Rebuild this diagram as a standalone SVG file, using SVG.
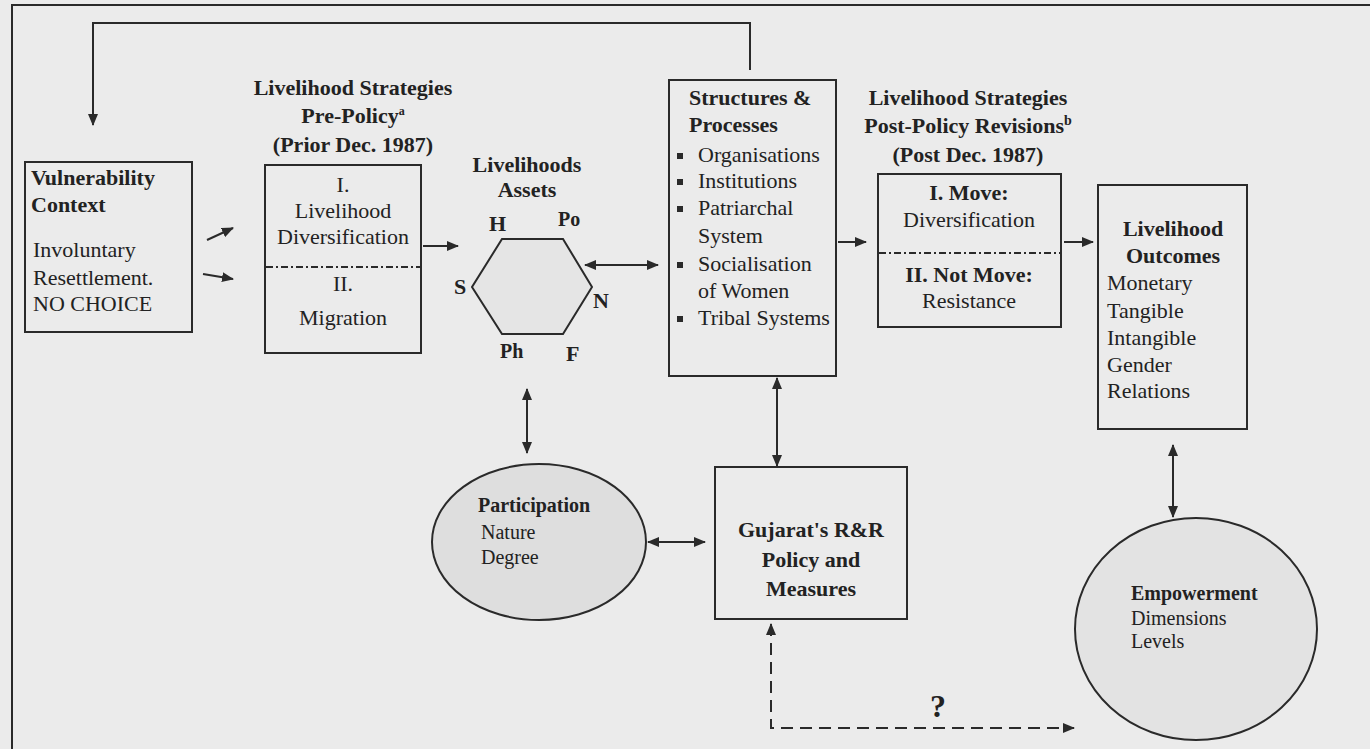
<svg xmlns="http://www.w3.org/2000/svg" width="1370" height="749" viewBox="0 0 1370 749">
  <style>
    text { font-family: "Liberation Serif", "Times New Roman", serif; fill: #222; font-size: 22px; }
    .b { font-weight: bold; }
    .s { font-size: 20px; }
    .c { text-anchor: middle; }
    .q { font-size: 32px; }
    .box { fill: none; stroke: #2a2a2a; stroke-width: 2; }
    .shape { fill: #e2e2e2; stroke: #2a2a2a; stroke-width: 2; }
    .sep { stroke: #2a2a2a; stroke-width: 2; stroke-dasharray: 7 3 2 3; }
    .link { fill: none; stroke: #2a2a2a; stroke-width: 2; }
    .dash { stroke-dasharray: 12 7; }
  </style>
  <defs>
    <marker id="arrow" viewBox="0 0 12 10" refX="11" refY="5" markerWidth="12" markerHeight="10" markerUnits="userSpaceOnUse" orient="auto-start-reverse">
      <path d="M0,0 L12,5 L0,10 Z" fill="#2a2a2a"/>
    </marker>
  </defs>

  <!-- page -->
  <rect x="0" y="0" width="1370" height="749" fill="#ebebeb"/>
  <path d="M12,749 V5 H1370" fill="none" stroke="#2a2a2a" stroke-width="2"/>

  <!-- connectors -->
  <g id="connectors">
    <path class="link" d="M750,70 V23 H93 V125" marker-end="url(#arrow)"/>
    <path class="link" d="M207,240 L233,228" marker-end="url(#arrow)"/>
    <path class="link" d="M203,274 L233,279" marker-end="url(#arrow)"/>
    <path class="link" d="M423,246 H458" marker-end="url(#arrow)"/>
    <path class="link" d="M585,265 H658" marker-start="url(#arrow)" marker-end="url(#arrow)"/>
    <path class="link" d="M838,242 H866" marker-end="url(#arrow)"/>
    <path class="link" d="M1064,242 H1093" marker-end="url(#arrow)"/>
    <path class="link" d="M527,389 V453" marker-start="url(#arrow)" marker-end="url(#arrow)"/>
    <path class="link" d="M777,378 V466" marker-start="url(#arrow)" marker-end="url(#arrow)"/>
    <path class="link" d="M648,542 H705" marker-start="url(#arrow)" marker-end="url(#arrow)"/>
    <path class="link" d="M1173,445 V517" marker-start="url(#arrow)" marker-end="url(#arrow)"/>
    <path class="link dash" d="M771,624 V728 H1074" marker-start="url(#arrow)" marker-end="url(#arrow)"/>
    <text class="b q c" x="938" y="717">?</text>
  </g>

  <!-- vulnerability context -->
  <g id="vulnerability">
    <rect class="box" x="25" y="162" width="167" height="170"/>
    <text class="b" x="31" y="185">Vulnerability</text>
    <text class="b" x="31" y="212">Context</text>
    <text x="33" y="257">Involuntary</text>
    <text x="33" y="285">Resettlement.</text>
    <text x="33" y="311">NO CHOICE</text>
  </g>

  <!-- strategies before the policy -->
  <g id="pre-policy">
    <text class="b c" x="353" y="95">Livelihood Strategies</text>
    <text class="b c" x="353" y="123">Pre-Policy<tspan font-size="12" dy="-8">a</tspan></text>
    <text class="b c" x="353" y="152">(Prior Dec. 1987)</text>
    <rect class="box" x="265" y="165" width="156" height="188"/>
    <line class="sep" x1="266" y1="267" x2="420" y2="267"/>
    <text class="c" x="343" y="192">I.</text>
    <text class="c" x="343" y="218">Livelihood</text>
    <text class="c" x="343" y="244">Diversification</text>
    <text class="c" x="343" y="291">II.</text>
    <text class="c" x="343" y="325">Migration</text>
  </g>

  <!-- asset hexagon -->
  <g id="assets">
    <text class="b c" x="527" y="172">Livelihoods</text>
    <text class="b c" x="527" y="197">Assets</text>
    <polygon class="shape" points="502,239 563,239 592,287 563,334 502,334 472,287" style="fill:#e5e5e5"/>
    <text class="b" x="489" y="231">H</text>
    <text class="b s" x="558" y="226">Po</text>
    <text class="b" x="454" y="294">S</text>
    <text class="b" x="593" y="308">N</text>
    <text class="b s" x="500" y="358">Ph</text>
    <text class="b" x="566" y="361">F</text>
  </g>

  <!-- structures and processes -->
  <g id="structures">
    <rect class="box" x="669" y="80" width="167" height="296"/>
    <text class="b" x="689" y="105">Structures &amp;</text>
    <text class="b" x="689" y="132">Processes</text>
    <g fill="#2a2a2a">
      <rect x="677" y="153" width="6" height="6"/>
      <rect x="677" y="179" width="6" height="6"/>
      <rect x="677" y="206" width="6" height="6"/>
      <rect x="677" y="262" width="6" height="6"/>
      <rect x="677" y="316" width="6" height="6"/>
    </g>
    <text x="698" y="162">Organisations</text>
    <text x="698" y="188">Institutions</text>
    <text x="698" y="215">Patriarchal</text>
    <text x="698" y="243">System</text>
    <text x="698" y="271">Socialisation</text>
    <text x="698" y="298">of Women</text>
    <text x="698" y="325">Tribal Systems</text>
  </g>

  <!-- strategies after the policy revisions -->
  <g id="post-policy">
    <text class="b c" x="968" y="105">Livelihood Strategies</text>
    <text class="b c" x="968" y="133">Post-Policy Revisions<tspan font-size="14" dy="-8">b</tspan></text>
    <text class="b c" x="968" y="162">(Post Dec. 1987)</text>
    <rect class="box" x="878" y="174" width="183" height="153"/>
    <line class="sep" x1="879" y1="253" x2="1060" y2="253"/>
    <text class="b c" x="969" y="200">I. Move:</text>
    <text class="c" x="969" y="227">Diversification</text>
    <text class="b c" x="969" y="282">II. Not Move:</text>
    <text class="c" x="969" y="308">Resistance</text>
  </g>

  <!-- outcomes -->
  <g id="outcomes">
    <rect class="box" x="1098" y="185" width="149" height="244"/>
    <text class="b c" x="1173" y="236">Livelihood</text>
    <text class="b c" x="1173" y="263">Outcomes</text>
    <text x="1107" y="290">Monetary</text>
    <text x="1107" y="318">Tangible</text>
    <text x="1107" y="345">Intangible</text>
    <text x="1107" y="372">Gender</text>
    <text x="1107" y="398">Relations</text>
  </g>

  <!-- participation -->
  <g id="participation">
    <ellipse class="shape" cx="539" cy="542" rx="107" ry="78" style="fill:#dedede"/>
    <text class="b s" x="478" y="512">Participation</text>
    <text class="s" x="481" y="539">Nature</text>
    <text class="s" x="481" y="564">Degree</text>
  </g>

  <!-- resettlement policy -->
  <g id="policy">
    <rect class="box" x="715" y="467" width="192" height="152"/>
    <text class="b c" x="811" y="537">Gujarat's R&amp;R</text>
    <text class="b c" x="811" y="567">Policy and</text>
    <text class="b c" x="811" y="596">Measures</text>
  </g>

  <!-- empowerment -->
  <g id="empowerment">
    <ellipse class="shape" cx="1196" cy="629" rx="121" ry="111" style="fill:#e3e3e3"/>
    <text class="b s" x="1131" y="600">Empowerment</text>
    <text class="s" x="1131" y="625">Dimensions</text>
    <text class="s" x="1131" y="648">Levels</text>
  </g>
</svg>
